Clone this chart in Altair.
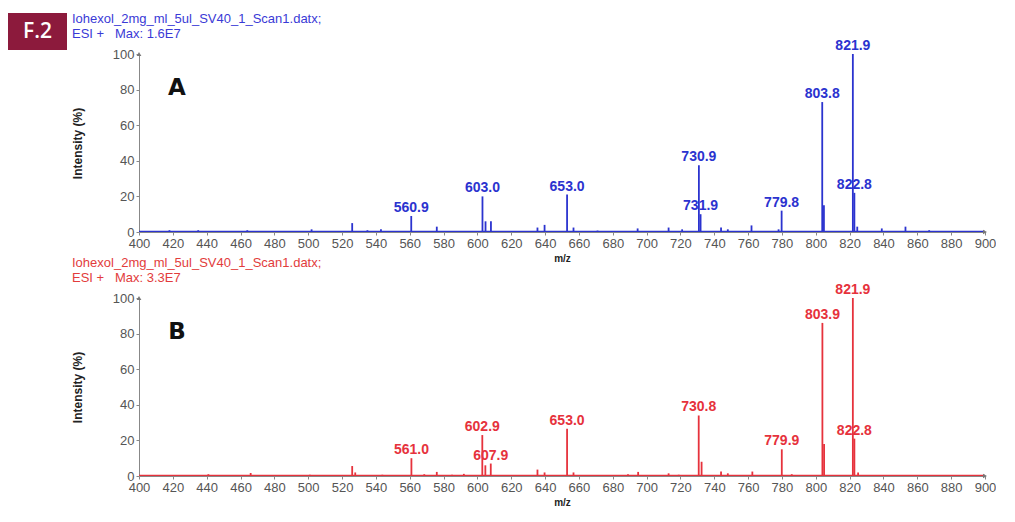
import altair as alt
import pandas as pd

# ---------------- data ----------------
mz_a = [418, 435, 464, 502, 526, 535, 543, 560.9, 576, 603.0, 604.8, 608.0, 635.5, 639.7,
        653.0, 656.8, 671, 694.7, 713, 721, 730.9, 731.9, 744, 748, 762, 778, 779.8,
        803.8, 804.8, 821.9, 822.8, 824.5, 839, 853, 867]
int_a = [1, 1, 1, 1.5, 5, 1, 1.5, 9, 3, 20, 6, 6, 2.5, 4,
         21, 2.5, 0.8, 2, 2.5, 1.5, 37.5, 10, 2.5, 1.5, 3.7, 1.5, 12,
         73, 15, 100, 22, 3, 2, 3, 1]
lab_mz_a = [560.9, 603.0, 653.0, 730.9, 731.9, 779.8, 803.8, 821.9, 822.8]
lab_txt_a = ["560.9", "603.0", "653.0", "730.9", "731.9", "779.8", "803.8", "821.9", "822.8"]

mz_b = [435, 441, 466, 480, 501, 509, 526, 527.8, 543.8, 561.0, 568.6, 576, 585, 592,
        602.9, 604.7, 607.9, 635.5, 639.7, 653.0, 656.8, 671, 677, 689, 695, 713, 719,
        730.8, 732.5, 744, 748, 762.5, 779.9, 785.8, 803.9, 804.9, 821.9, 822.8, 825]
int_b = [0.5, 1, 1.7, 0.5, 0.7, 0.5, 5.6, 2, 0.7, 10, 1, 2.3, 0.7, 1.2,
         23, 6, 7, 3.6, 2, 26.5, 2, 0.5, 0.5, 1, 2.3, 1.5, 0.7,
         34, 8, 2.5, 1.5, 2.5, 15, 1, 86, 18, 100, 21, 2]
lab_mz_b = [561.0, 602.9, 607.9, 653.0, 730.8, 779.9, 803.9, 821.9, 822.8]
lab_txt_b = ["561.0", "602.9", "607.9", "653.0", "730.8", "779.9", "803.9", "821.9", "822.8"]

header_file = "Iohexol_2mg_ml_5ul_SV40_1_Scan1.datx;"
header_a = "ESI +\u00a0\u00a0\u00a0Max: 1.6E7"
header_b = "ESI +\u00a0\u00a0\u00a0Max: 3.3E7"

x_ticks = list(range(400, 901, 20))
y_ticks = [0, 20, 40, 60, 80, 100]
x_range = [400, 900]
y_range = [0, 100]

W, H = 846, 178
FONT = "Liberation Sans"

x_enc = dict(scale=alt.Scale(domain=x_range, nice=False, zero=False),
             axis=alt.Axis(values=x_ticks, title="m/z", format="d", labelFlush=False,
                           labelOverlap=False))
y_enc = dict(scale=alt.Scale(domain=y_range, nice=False),
             axis=alt.Axis(values=y_ticks, title="Intensity (%)", format="d"))


def panel(mz, inten, lab_mz, lab_txt, color, head_color, letter, head2, with_box):
    peaks = pd.DataFrame({"mz": mz, "int": inten, "base": [0] * len(mz)})
    ints = dict(zip(mz, inten))
    labels = pd.DataFrame({"mz": lab_mz, "int": [ints[m] for m in lab_mz], "txt": lab_txt})
    base = pd.DataFrame({"x0": [x_range[0]], "x1": [x_range[1]], "y": [0.3]})
    arrows = pd.DataFrame({"x": [x_range[0], x_range[1]], "y": [y_range[1], 0],
                           "shape": ["triangle-up", "triangle-right"]})

    baseline = alt.Chart(base).mark_rule(color=color, strokeWidth=1.3).encode(
        x=alt.X("x0:Q", **x_enc), x2="x1:Q", y=alt.Y("y:Q", **y_enc))
    rules = alt.Chart(peaks).mark_rule(color=color, strokeWidth=1.8).encode(
        x=alt.X("mz:Q", **x_enc), y=alt.Y("int:Q", **y_enc), y2="base:Q")
    txt = alt.Chart(labels).mark_text(color=color, font=FONT, fontSize=14, fontWeight="bold",
                                      baseline="bottom", dy=-1).encode(
        x=alt.X("mz:Q", **x_enc), y=alt.Y("int:Q", **y_enc), text="txt:N")
    arr = alt.Chart(arrows).mark_point(filled=True, color="#777777", size=22, opacity=1).encode(
        x=alt.X("x:Q", **x_enc), y=alt.Y("y:Q", **y_enc),
        shape=alt.Shape("shape:N", scale=None, legend=None))
    let = alt.Chart(pd.DataFrame({"t": [letter]})).mark_text(
        font="DejaVu Sans", fontSize=23, fontWeight="bold", color="#111111").encode(
        x=alt.value(38), y=alt.value(34), text="t:N")
    heads = alt.Chart(pd.DataFrame({"t": [header_file, head2], "yy": [-35, -20]})).mark_text(
        font=FONT, fontSize=13, color=head_color, align="left", baseline="middle").encode(
        x=alt.value(-67), y=alt.Y("yy:Q", scale=None), text="t:N")
    layers = [baseline, rules, txt, arr, let, heads]
    if with_box:
        box = alt.Chart(pd.DataFrame({"t": ["F.2"]})).mark_rect(color="#8c1a3c").encode(
            x=alt.value(-131), x2=alt.value(-72), y=alt.value(-41), y2=alt.value(-4))
        boxt = alt.Chart(pd.DataFrame({"t": ["F.2"]})).mark_text(
            font="Open Sans", fontSize=21, fontWeight=600, color="white",
            baseline="middle").encode(
            x=alt.value(-101.5), y=alt.value(-22), text="t:N")
        layers += [box, boxt]
    return alt.layer(*layers).properties(width=W, height=H)


pa = panel(mz_a, int_a, lab_mz_a, lab_txt_a, "#2b33cf", "#3a3ad6", "A", header_a, True)
pb = panel(mz_b, int_b, lab_mz_b, lab_txt_b, "#e6323c", "#e23c3c", "B", header_b, False)

chart = alt.vconcat(pa, pb, spacing=66, bounds="flush").properties(
    padding={"left": 0, "top": 5, "right": 0, "bottom": 0},
    background="white"
).configure_view(stroke=None).configure_axis(
    grid=False, domainColor="#888888", tickColor="#888888", labelColor="#555555",
    labelFont=FONT, labelFontSize=13, titleFont=FONT, titleColor="#222222",
    titleFontWeight="bold", tickSize=3, labelPadding=2
).configure_axisY(titleFontSize=12, titlePadding=28).configure_axisX(
    titleFontSize=10, titlePadding=3, labelPadding=2)

chart.save("out.html", embed_options={"renderer": "svg", "actions": False})
